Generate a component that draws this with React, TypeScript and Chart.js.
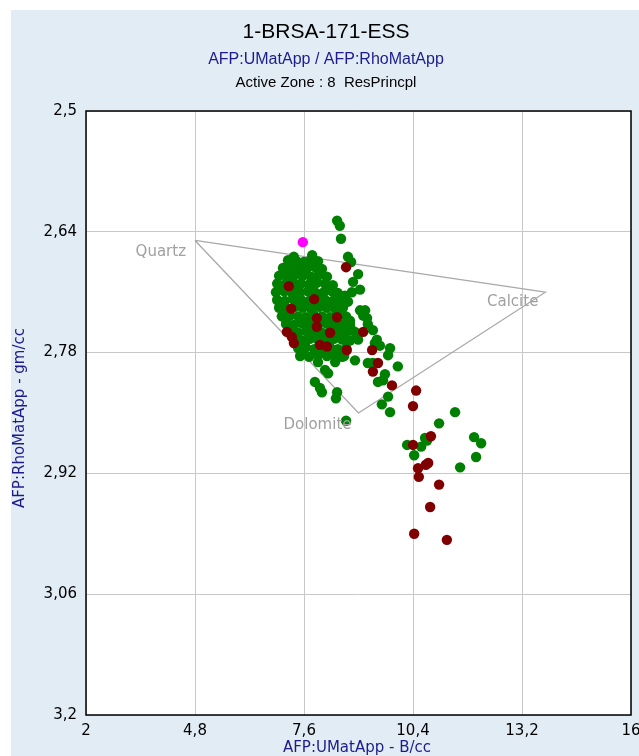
import { useEffect, useRef } from "react";
import { Chart, registerables } from "chart.js";

Chart.register(...registerables);

const xTickValues = [2, 4.8, 7.6, 10.4, 13.2, 16];
const xTickLabels = ["2", "4,8", "7,6", "10,4", "13,2", "16"];
const yTickValues = [2.5, 2.64, 2.78, 2.92, 3.06, 3.2];
const yTickLabels = ["2,5", "2,64", "2,78", "2,92", "3,06", "3,2"];

const chartTitle = "1-BRSA-171-ESS";
const chartSubtitle = "AFP:UMatApp / AFP:RhoMatApp";
const chartZone = "Active Zone : 8  ResPrincpl";
const xAxisTitle = "AFP:UMatApp - B/cc";
const yAxisTitle = "AFP:RhoMatApp - gm/cc";

const mineralNames = ["Quartz", "Calcite", "Dolomite"];
const mineralU = [4.8, 13.8, 9.0];
const mineralRho = [2.65, 2.71, 2.85];

const greenPoints: [number, number][] = [
  [8.45, 2.627], [8.52, 2.633], [8.55, 2.648],
  [7.34, 2.669], [7.81, 2.667],
  [7.19, 2.673], [7.41, 2.674], [7.6, 2.675], [7.78, 2.672], [7.96, 2.674],
  [7.06, 2.682], [7.27, 2.681], [7.47, 2.683], [7.68, 2.682], [7.88, 2.681], [8.06, 2.683],
  [7.16, 2.686], [7.57, 2.687], [7.99, 2.686],
  [6.96, 2.691], [7.16, 2.692], [7.37, 2.69], [7.57, 2.691], [7.78, 2.692], [7.99, 2.69], [8.19, 2.692],
  [6.91, 2.7], [7.11, 2.701], [7.32, 2.699], [7.52, 2.7], [7.73, 2.701], [7.93, 2.699], [8.14, 2.7], [8.34, 2.702],
  [7.01, 2.705], [7.42, 2.706], [7.83, 2.704], [8.24, 2.705],
  [6.88, 2.71], [7.09, 2.709], [7.29, 2.711], [7.5, 2.71], [7.7, 2.709], [7.91, 2.711], [8.11, 2.71], [8.32, 2.709], [8.47, 2.711],
  [6.91, 2.719], [7.11, 2.72], [7.32, 2.718], [7.52, 2.719], [7.73, 2.72], [7.93, 2.718], [8.14, 2.719], [8.34, 2.72], [8.55, 2.719],
  [7.01, 2.724], [7.42, 2.725], [7.83, 2.723], [8.24, 2.724], [8.47, 2.725],
  [6.96, 2.728], [7.16, 2.729], [7.37, 2.727], [7.57, 2.728], [7.78, 2.729], [7.99, 2.727], [8.19, 2.728], [8.4, 2.729], [8.6, 2.728],
  [7.03, 2.738], [7.24, 2.737], [7.45, 2.738], [7.65, 2.739], [7.86, 2.737], [8.06, 2.738], [8.27, 2.739], [8.47, 2.737], [8.68, 2.738],
  [7.14, 2.742], [7.55, 2.743], [7.96, 2.741], [8.37, 2.742], [8.78, 2.743],
  [7.14, 2.747], [7.34, 2.748], [7.55, 2.746], [7.75, 2.747], [7.96, 2.748], [8.17, 2.746], [8.37, 2.747], [8.58, 2.748], [8.78, 2.747],
  [7.24, 2.756], [7.45, 2.757], [7.65, 2.755], [7.86, 2.756], [8.06, 2.757], [8.27, 2.755], [8.47, 2.756], [8.68, 2.757], [8.91, 2.756],
  [7.34, 2.761], [7.75, 2.762], [8.17, 2.76], [8.58, 2.761],
  [7.34, 2.765], [7.55, 2.766], [7.75, 2.764], [7.96, 2.765], [8.17, 2.766], [8.37, 2.764], [8.58, 2.765], [8.78, 2.766], [8.99, 2.765],
  [7.45, 2.775], [7.65, 2.774], [7.86, 2.776], [8.06, 2.775], [8.27, 2.774], [8.47, 2.776], [8.68, 2.775],
  [7.55, 2.78], [7.96, 2.781], [8.37, 2.78],
  [7.5, 2.784], [7.73, 2.785], [7.96, 2.783], [8.19, 2.784], [8.42, 2.785], [8.63, 2.784],
  [8.73, 2.669], [8.81, 2.675], [8.99, 2.689], [8.86, 2.698], [9.04, 2.707], [8.83, 2.71],
  [8.65, 2.714], [8.73, 2.721], [9.04, 2.731], [9.17, 2.731], [9.12, 2.737], [9.22, 2.74],
  [9.24, 2.747], [9.37, 2.754], [9.47, 2.765], [8.83, 2.754], [8.96, 2.761],
  [9.42, 2.769], [9.55, 2.772], [9.81, 2.775], [9.76, 2.783], [9.37, 2.792], [9.24, 2.792],
  [8.91, 2.789], [10.01, 2.796], [9.68, 2.805], [9.63, 2.812], [9.5, 2.814],
  [9.76, 2.831], [9.6, 2.84], [9.81, 2.849],
  [7.96, 2.791], [8.14, 2.8], [8.22, 2.804], [7.88, 2.814], [8.01, 2.821], [8.06, 2.826],
  [8.45, 2.826], [8.42, 2.833], [8.68, 2.859], [8.58, 2.785], [8.4, 2.791],
  [11.48, 2.849], [11.07, 2.862], [10.71, 2.879], [10.76, 2.882], [10.61, 2.889],
  [10.25, 2.887], [10.43, 2.899], [11.97, 2.878], [12.15, 2.885], [12.02, 2.901], [11.61, 2.913],
];

const redPoints: [number, number][] = [
  [8.68, 2.681], [7.21, 2.703], [7.27, 2.729], [7.86, 2.718], [7.93, 2.74], [8.45, 2.739],
  [7.16, 2.756], [7.29, 2.762], [7.34, 2.769], [7.93, 2.75], [8.01, 2.771], [8.19, 2.773],
  [8.27, 2.757], [8.7, 2.777], [9.12, 2.756], [9.35, 2.777], [9.5, 2.792], [9.37, 2.802],
  [9.86, 2.818], [10.48, 2.824], [10.4, 2.842], [10.86, 2.877], [10.4, 2.887], [10.79, 2.908],
  [10.73, 2.91], [10.53, 2.914], [10.55, 2.924], [11.07, 2.933], [10.84, 2.959], [10.43, 2.99],
  [11.27, 2.997],
];

const magentaPoints: [number, number][] = [[7.57, 2.652]];

const toXY = (pts: [number, number][]) => pts.map(([x, y]) => ({ x, y }));

const decorPlugin = {
  id: "decor",
  beforeDraw(chart: any) {
    const { ctx, chartArea: a } = chart;
    ctx.save();
    ctx.fillStyle = "#ffffff";
    ctx.fillRect(0, 0, chart.width, chart.height);
    ctx.fillStyle = "#e2ecf5";
    ctx.fillRect(11, 10, chart.width - 11, chart.height - 10);
    ctx.fillStyle = "#ffffff";
    ctx.fillRect(a.left, a.top, a.right - a.left, a.bottom - a.top);
    ctx.restore();
  },
  beforeDatasetsDraw(chart: any) {
    const { ctx, chartArea: a } = chart;
    ctx.save();
    ctx.strokeStyle = "#000000";
    ctx.lineWidth = 1.5;
    ctx.strokeRect(a.left, a.top, a.right - a.left, a.bottom - a.top);
    ctx.restore();
  },
  afterDraw(chart: any) {
    const { ctx } = chart;
    const xs = chart.scales.x;
    const ys = chart.scales.y;
    ctx.save();
    ctx.textAlign = "center";
    ctx.textBaseline = "middle";
    ctx.fillStyle = "#000000";
    ctx.font = '21px "Liberation Sans"';
    ctx.fillText(chartTitle, 326, 32);
    ctx.fillStyle = "#1c1c8c";
    ctx.font = '16px "Liberation Sans"';
    ctx.fillText(chartSubtitle, 326, 60);
    ctx.fillStyle = "#000000";
    ctx.font = '15px "Liberation Sans"';
    ctx.fillText(chartZone, 326, 83);

    ctx.fillStyle = "#1c1c8c";
    ctx.font = '15px "DejaVu Sans"';
    ctx.fillText(xAxisTitle, 357, 748);
    ctx.save();
    ctx.translate(20, 418);
    ctx.rotate(-Math.PI / 2);
    ctx.fillText(yAxisTitle, 0, 0);
    ctx.restore();

    const offsets = [
      [-9, 12],
      [-7, 10],
      [-7, 12],
    ];
    ctx.fillStyle = "#a0a0a0";
    ctx.font = '15px "DejaVu Sans"';
    ctx.textAlign = "right";
    mineralNames.forEach((name, i) => {
      const px = xs.getPixelForValue(mineralU[i]);
      const py = ys.getPixelForValue(mineralRho[i]);
      ctx.fillText(name, px + offsets[i][0], py + offsets[i][1]);
    });
    ctx.restore();
  },
};

export default function App() {
  const ref = useRef<HTMLCanvasElement | null>(null);

  useEffect(() => {
    if (!ref.current) return;
    const triangle = [0, 1, 2, 0].map((i) => ({ x: mineralU[i], y: mineralRho[i] }));
    const chart = new Chart(ref.current, {
      type: "scatter",
      data: {
        datasets: [
          {
            label: "Magenta",
            data: toXY(magentaPoints),
            backgroundColor: "#ff00ff",
            borderWidth: 0,
            pointRadius: 5.2,
            order: 0,
          },
          {
            label: "Red",
            data: toXY(redPoints),
            backgroundColor: "#800000",
            borderWidth: 0,
            pointRadius: 5.2,
            order: 1,
          },
          {
            label: "Green",
            data: toXY(greenPoints),
            backgroundColor: "#008000",
            borderWidth: 0,
            pointRadius: 5.2,
            order: 2,
          },
          {
            label: "Minerals",
            data: triangle,
            showLine: true,
            borderColor: "#a8a8a8",
            borderWidth: 1.3,
            pointRadius: 0,
            fill: false,
            order: 3,
          } as any,
        ],
      },
      options: {
        responsive: false,
        animation: false,
        events: [],
        layout: { padding: { top: 111, right: 8, left: 0, bottom: 0 } },
        plugins: {
          legend: { display: false },
          tooltip: { enabled: false },
          title: { display: false },
        },
        scales: {
          x: {
            type: "linear",
            min: 2,
            max: 16,
            afterBuildTicks: (scale: any) => {
              scale.ticks = xTickValues.map((v) => ({ value: v }));
            },
            afterFit: (scale: any) => {
              scale.height = 41;
              scale.paddingLeft = 0;
              scale.paddingRight = 0;
            },
            grid: { color: "#c8c8c8", drawTicks: false, lineWidth: 1 },
            border: { display: false },
            ticks: {
              autoSkip: false,
              maxRotation: 0,
              padding: 7,
              color: "#000000",
              font: { family: "DejaVu Sans", size: 15 },
              callback: (v: any) => {
                const i = xTickValues.findIndex((t) => Math.abs(t - Number(v)) < 1e-6);
                return i >= 0 ? xTickLabels[i] : "";
              },
            },
          },
          y: {
            type: "linear",
            min: 2.5,
            max: 3.2,
            reverse: true,
            afterBuildTicks: (scale: any) => {
              scale.ticks = yTickValues.map((v) => ({ value: v }));
            },
            afterFit: (scale: any) => {
              scale.width = 86;
              scale.paddingTop = 0;
              scale.paddingBottom = 0;
            },
            grid: { color: "#c8c8c8", drawTicks: false, lineWidth: 1 },
            border: { display: false },
            ticks: {
              autoSkip: false,
              padding: 9,
              color: "#000000",
              font: { family: "DejaVu Sans", size: 15 },
              callback: (v: any) => {
                const i = yTickValues.findIndex((t) => Math.abs(t - Number(v)) < 1e-6);
                return i >= 0 ? yTickLabels[i] : "";
              },
            },
          },
        },
      },
      plugins: [decorPlugin],
    });
    return () => chart.destroy();
  }, []);

  return (
    <div style={{ position: "absolute", left: 0, top: 0, width: 639, height: 756 }}>
      <canvas ref={ref} width={639} height={756} style={{ display: "block" }} />
    </div>
  );
}
